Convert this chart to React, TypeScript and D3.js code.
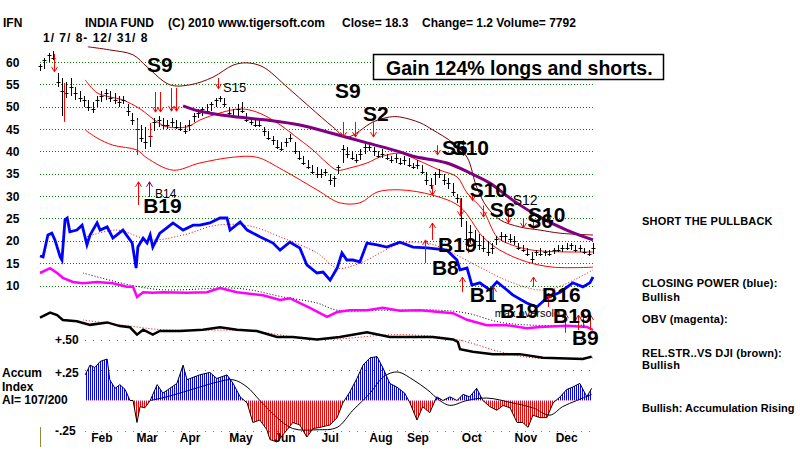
import * as d3 from "d3";
import { useEffect } from "react";

type Pt = [number, number];

// price bars, one every 2nd trading day, 1/7/08 .. 12/31/08
const highs = [
  59.5, 61, 62, 62.5, 57.5, 56.5, 55.5, 56.5, 54.5, 53.5,
  52.5, 51.5, 51, 52.5, 53.5, 54, 53.5, 53, 52.5, 52.5,
  50.5, 48.5, 47.5, 46, 45.5, 44.5, 47.5, 48, 47.5, 47,
  47.5, 47, 46.5, 46, 47, 48.5, 49.5, 50, 50.5, 51,
  52, 52.5, 52, 50, 49.5, 50.5, 51, 48.5, 47.5, 47,
  47, 45.5, 44.5, 43.5, 42.5, 42, 43, 44, 42, 40,
  39, 38, 37, 36.5, 36, 36, 35, 34.5, 37, 41.5,
  41, 40, 39.5, 40.5, 42, 42, 41, 40, 40.5, 39.5,
  39, 39.5, 38.5, 39, 38.5, 37.5, 38, 37, 35.5, 34,
  35.5, 36, 35, 34, 33, 30.5, 29.5, 24.5, 23.5, 22.5,
  21.5, 21, 20, 19.5, 21, 22, 21.5, 21.5, 21, 19.5,
  19, 18.5, 17.5, 18, 18.5, 18, 18, 18.5, 19, 19,
  19.5, 19.5, 19, 19, 18.5, 18, 19.5,
];
const lows = [
  58, 58.5, 60, 60.5, 54.5, 48, 52, 52.5, 51.5, 51,
  50, 49, 48.5, 50, 51, 51.5, 51, 50.5, 50, 50.5,
  48, 46, 43.5, 42, 40.5, 41, 44.5, 45.5, 45, 45,
  45.5, 45, 44.5, 44, 44.5, 46.5, 47.5, 48, 48.5, 49,
  50, 51, 50, 48, 47.5, 48, 48.5, 46.5, 46, 45.5,
  45.5, 43.5, 42.5, 41.5, 40.5, 40, 41, 42, 39.5, 38,
  37, 36, 35, 34, 34, 34.5, 32.5, 32, 35, 37.5,
  38.5, 38, 37.5, 38, 39.5, 40, 39, 38.5, 38.5, 38,
  37.5, 37.5, 37, 37, 36.5, 36, 36, 35, 32.5, 31.5,
  32.5, 34, 32.5, 31.5, 30, 28.5, 23, 18, 19.5, 18.5,
  18, 17.5, 16.5, 17, 19, 20, 19.5, 19.5, 19, 18,
  17.5, 16.5, 15, 16.5, 16.5, 16.5, 16.5, 17, 17.5, 17.5,
  18, 18, 17.5, 17.5, 17, 16.5, 17,
];
const closes = [
  59, 60.5, 61.5, 61, 55.5, 53.5, 53, 54.5, 53, 52,
  51.5, 50, 49.5, 51.5, 52.5, 53, 52, 51.5, 51, 51.5,
  49, 47, 45, 43, 42, 43.5, 46.5, 47, 46, 46,
  46.5, 45.5, 45, 44.5, 46, 48, 48.5, 49.5, 49, 50.5,
  51.5, 52, 50.5, 48.5, 48, 49.5, 49, 47, 46.5, 46,
  46, 44.5, 43, 42.5, 41, 40.5, 42, 43, 40, 38.5,
  37.5, 36.5, 35.5, 35, 35, 35.5, 33.5, 34, 36.5, 40.5,
  39.5, 38.5, 38, 39.5, 41, 41, 40, 39, 39.5, 38.5,
  38, 38.5, 37.5, 38, 37, 36.5, 37, 35.5, 33.5, 32.5,
  35, 35, 33.5, 33, 31, 29.5, 25, 20.5, 22, 20,
  19, 18.5, 17.5, 18.5, 20.5, 21, 21, 20.5, 20, 18.5,
  18, 17, 16, 17.5, 17, 17.5, 17, 18, 18, 18.5,
  18.5, 19, 18, 18.5, 17.5, 17, 18.5,
];

const priceTicks = [60, 55, 50, 45, 40, 35, 30, 25, 20, 15, 10];
const monthNames = ["Feb", "Mar", "Apr", "May", "Jun", "Jul", "Aug", "Sep", "Oct", "Nov", "Dec"];
const monthPos = [14.1, 24.4, 34.2, 45.8, 55.8, 66.1, 77.7, 86.1, 98.4, 110.7, 120.0];

// [bar index, price]
const upperBand: Pt[] = [
  [10.3, 56.0], [13.0, 53.1], [15.9, 52.2], [18.9, 51.5], [22.8, 49.5], [26.7, 46.6],
  [28.9, 45.5], [33.5, 45.5], [36.4, 47.0], [41.0, 48.6], [45.6, 49.5], [49.4, 48.8],
  [54.0, 46.4], [59.2, 42.6], [62.2, 40.3], [65.4, 37.4], [67.7, 35.8], [70.6, 36.3],
  [74.5, 37.4], [77.4, 38.7], [82.0, 39.6], [85.9, 38.1], [91.1, 35.8], [95.0, 34.3],
  [97.3, 30.7], [100.9, 26.9], [104.1, 20.9], [106.4, 19.5], [112.3, 17.9], [126, 17.5],
];
const lowerBand: Pt[] = [
  [10.3, 44.8], [13.0, 43.0], [16.6, 41.4], [22.1, 40.3], [24.4, 38.5], [30.3, 35.8],
  [36.4, 37.4], [44.0, 38.7], [49.4, 38.7], [55.4, 35.8], [63.1, 31.4], [68.3, 28.5],
  [72.9, 28.5], [76.8, 30.9], [82.0, 31.4], [89.5, 30.2], [95.7, 27.6], [100.9, 20.9],
  [104.8, 17.9], [110.9, 15.3], [116.9, 14.1], [126, 14.1],
];
const outerBand: Pt[] = [
  [10.9, 63.4], [15.9, 62.7], [21.2, 61.6], [24.4, 58.9], [29.6, 54.9], [34.2, 54.9],
  [39.4, 56.6], [44.0, 59.3], [47.2, 59.8], [50.8, 58.9], [56.3, 54.4], [61.5, 49.9],
  [66.7, 45.5], [69.9, 43.2], [75.9, 46.6], [79.7, 47.7], [82.0, 47.7], [86.6, 46.4],
  [89.5, 44.8], [94.1, 41.9], [97.3, 38.7], [99.5, 32.0], [101.8, 27.6], [104.8, 24.7],
  [109.3, 23.1], [113.9, 22.4], [118.5, 21.7], [126, 21.3],
];
const longMA: Pt[] = [
  [32.6, 50.2], [36.4, 49.0], [44.0, 47.8], [51.7, 47.0], [59.2, 45.9], [66.7, 44.0],
  [74.5, 41.9], [82.0, 39.9], [85.0, 38.9], [92.7, 37.4], [97.9, 35.2], [102.5, 32.9],
  [107.7, 29.1], [113.9, 25.3], [120.0, 22.4], [126, 20.2],
];
const closingPower: Pt[] = [
  [0, 16.6], [0.7, 16.4], [1.8, 21.3], [2.7, 21.7], [3.4, 20.2], [4.6, 16.4], [5.0, 15.7],
  [5.7, 24.7], [6.2, 25.1], [6.8, 22.0], [8.4, 22.4], [9.6, 23.5], [10.7, 19.1], [11.4, 21.3],
  [13.0, 24.0], [13.7, 22.4], [15.3, 23.1], [16.6, 20.6], [18.9, 22.4], [21.0, 19.5],
  [21.9, 13.9], [22.3, 18.6], [23.5, 20.6], [24.4, 19.5], [25.1, 21.3], [25.7, 18.6],
  [27.3, 21.7], [28.9, 22.9], [30.3, 24.0], [32.6, 22.4], [34.9, 23.5], [36.4, 23.5],
  [38.7, 24.0], [41.0, 25.1], [42.6, 25.1], [43.3, 22.4], [45.6, 24.2], [47.2, 22.4],
  [50.1, 20.9], [53.1, 19.5], [54.7, 17.9], [56.9, 19.7], [59.2, 18.4], [60.8, 14.6],
  [63.1, 12.8], [64.5, 13.0], [66.1, 11.2], [67.7, 13.9], [68.8, 17.3], [69.9, 15.7],
  [71.3, 15.7], [72.9, 15.3], [74.5, 19.5], [76.8, 19.1], [79.0, 18.6], [82.0, 19.7],
  [85.0, 18.6], [88.2, 18.4], [92.7, 17.9], [95.0, 15.7], [95.7, 13.5], [97.3, 13.9],
  [98.4, 10.1], [100.2, 10.6], [102.5, 9.0], [104.1, 10.8], [106.4, 9.0], [107.7, 7.9],
  [110.9, 6.1], [113.2, 5.2], [115.5, 7.2], [118.5, 8.5], [121.4, 10.6], [123.7, 9.7],
  [125.3, 10.6], [126, 11.9],
];
const closingPowerMA: Pt[] = [
  [10.7, 20.9], [17.5, 22.4], [25.1, 20.2], [32.6, 21.3], [40.3, 23.5], [47.8, 23.3],
  [55.4, 20.6], [63.1, 17.3], [67.7, 13.9], [72.9, 15.0], [82.0, 19.3], [88.2, 19.5],
  [92.7, 17.9], [100.2, 14.1], [107.7, 10.6], [115.5, 9.0], [126, 13.5],
];
const obv: Pt[] = [
  [0, 9.5], [2.3, 10.3], [3.9, 9.5], [5.2, 8.7], [7.5, 8.0], [9.8, 7.8], [13.0, 8.0],
  [16.6, 7.8], [19.8, 7.2], [21.2, 7.2], [22.1, 5.5], [23.5, 6.3], [25.7, 6.2], [28.0, 6.3],
  [33.5, 6.2], [38.0, 6.3], [41.0, 7.0], [44.9, 6.3], [50.8, 5.8], [54.7, 5.0], [56.9, 5.3],
  [61.5, 3.7], [65.4, 2.2], [67.7, 3.0], [70.6, 3.3], [74.5, 3.3], [78.1, 3.7], [82.0, 3.2],
  [86.6, 3.3], [94.1, 2.8], [97.3, 1.7], [101.8, 0.8], [106.4, 0.8], [110.9, 0.3],
  [113.9, 0.5], [120.0, 0.7], [124.6, 0.5], [126, 0],
];
const obvMA: Pt[] = [
  [9.8, 9.5], [20.5, 7.5], [28.0, 6.7], [43.3, 7.0], [47.8, 6.7], [55.4, 5.5], [63.1, 4.5],
  [67.7, 3.3], [78.1, 3.3], [91.1, 3.3], [97.3, 2.8], [104.8, 1.3], [112.3, 0.8], [124.6, 0.8],
];
const relStrength: Pt[] = [
  [0, 0.68], [2.3, 0.72], [3.9, 0.70], [5.2, 0.66], [8.4, 0.65], [11.4, 0.62], [15.3, 0.64],
  [18.2, 0.61], [20.5, 0.60], [22.1, 0.54], [23.5, 0.58], [25.7, 0.54], [27.3, 0.57],
  [31.9, 0.57], [37.1, 0.58], [41.0, 0.60], [44.9, 0.58], [49.4, 0.57], [54.0, 0.52],
  [57.6, 0.52], [63.1, 0.50], [68.3, 0.52], [74.5, 0.56], [79.7, 0.52], [85.9, 0.52],
  [89.5, 0.52], [94.1, 0.50], [95.2, 0.48], [95.7, 0.42], [98.6, 0.40], [103.2, 0.38],
  [109.3, 0.38], [114.6, 0.35], [123.7, 0.34], [125.7, 0.36],
];
const relStrengthMA: Pt[] = [
  [9.8, 0.66], [20.5, 0.61], [28.0, 0.58], [47.8, 0.57], [63.1, 0.50], [82.0, 0.54],
  [95.0, 0.50], [104.8, 0.40], [112.3, 0.35], [126, 0.35],
];
const accumIndex: Pt[] = [
  [10.3, 0.21], [11.4, 0.29], [12.5, 0.27], [13.7, 0.32], [15.3, 0.34], [15.9, 0.17],
  [17.1, 0.10], [18.2, 0.13], [19.4, 0.09], [20.5, 0.0], [21.2, 0.0], [22.1, -0.18],
  [22.8, -0.05], [23.9, -0.06], [25.1, 0.0], [26.7, 0.13], [28.0, 0.06], [29.6, 0.10],
  [31.2, 0.14], [32.6, 0.29], [33.5, 0.17], [34.9, 0.19], [36.4, 0.21], [38.7, 0.23],
  [40.3, 0.18], [42.6, 0.21], [44.0, 0.14], [45.6, 0.03], [47.2, -0.02], [48.5, -0.18],
  [50.1, -0.16], [51.7, -0.24], [52.4, -0.32], [54.0, -0.34], [56.3, -0.24], [57.6, -0.18],
  [59.2, -0.20], [60.8, -0.30], [62.2, -0.23], [63.8, -0.22], [66.1, -0.20], [67.7, -0.14],
  [69.0, -0.02], [70.6, 0.07], [72.2, 0.18], [73.6, 0.29], [75.2, 0.35], [76.8, 0.36],
  [78.1, 0.27], [79.7, 0.14], [81.3, 0.11], [83.1, 0.06], [84.3, -0.02], [85.9, -0.16],
  [87.2, -0.05], [88.8, -0.10], [90.4, 0.03], [91.8, 0.0], [93.4, 0.03], [95.0, 0.0],
  [96.4, 0.05], [97.9, 0.03], [99.5, 0.10], [100.9, 0.0], [102.5, -0.05], [104.1, -0.08],
  [105.5, -0.04], [107.1, -0.06], [108.7, -0.18], [110.0, -0.18], [111.2, -0.22],
  [112.3, -0.12], [113.9, -0.14], [115.5, -0.14], [116.9, -0.02], [118.5, 0.03],
  [120.0, 0.09], [121.4, 0.11], [123.0, 0.14], [124.6, 0.03], [125.7, 0.10],
];
const accumMA: Pt[] = [
  [25.1, 0.0], [28.9, 0.03], [36.4, 0.11], [40.3, 0.15], [44.0, 0.17], [47.2, 0.11],
  [50.1, 0.0], [54.0, -0.14], [57.6, -0.23], [63.1, -0.24], [67.7, -0.22], [71.3, -0.08],
  [75.2, 0.06], [78.1, 0.19], [80.4, 0.23], [82.0, 0.23], [85.0, 0.17], [88.2, 0.09],
  [91.1, 0.0], [93.4, -0.04], [97.3, 0.0], [101.8, 0.02], [107.7, -0.02], [112.3, -0.06],
  [116.2, -0.12], [119.1, -0.05], [122.3, 0.0], [125.7, 0.05],
];

// signal arrows: bar index, start price, end price (head at end)
type Sig = { i: number; from: number; to: number; kind: "arrow" | "bar"; color?: string };
const signals: Sig[] = [
  { i: 3.2, from: 61.8, to: 57.8, kind: "arrow" },
  { i: 26.2, from: 53.3, to: 48.8, kind: "arrow" },
  { i: 27.3, from: 53.3, to: 48.8, kind: "arrow" },
  { i: 29.8, from: 54.2, to: 49.0, kind: "arrow" },
  { i: 31.0, from: 54.2, to: 49.0, kind: "arrow" },
  { i: 40.5, from: 56.4, to: 54.0, kind: "arrow" },
  { i: 69.0, from: 46.6, to: 43.2, kind: "arrow" },
  { i: 71.8, from: 46.6, to: 43.2, kind: "arrow" },
  { i: 75.9, from: 46.6, to: 43.2, kind: "arrow" },
  { i: 90.4, from: 41.4, to: 39.2, kind: "arrow" },
  { i: 96.4, from: 42.5, to: 39.0, kind: "arrow" },
  { i: 89.3, from: 32.5, to: 30.2, kind: "arrow" },
  { i: 95.7, from: 29.5, to: 25.5, kind: "arrow" },
  { i: 98.4, from: 30.7, to: 29.0, kind: "arrow" },
  { i: 101.0, from: 27.9, to: 25.3, kind: "arrow" },
  { i: 106.6, from: 27.2, to: 24.0, kind: "arrow" },
  { i: 110.0, from: 24.9, to: 22.9, kind: "arrow" },
  { i: 112.3, from: 24.5, to: 22.6, kind: "arrow" },
  { i: 22.3, from: 28.0, to: 33.2, kind: "arrow" },
  { i: 24.8, from: 29.8, to: 33.2, kind: "arrow", color: "#800080" },
  { i: 89.3, from: 20.2, to: 24.0, kind: "arrow" },
  { i: 87.7, from: 15.0, to: 20.2, kind: "arrow" },
  { i: 96.1, from: 8.5, to: 11.9, kind: "arrow" },
  { i: 97.5, from: 17.3, to: 20.2, kind: "arrow" },
  { i: 103.2, from: 6.3, to: 9.7, kind: "arrow" },
  { i: 112.3, from: 9.7, to: 11.9, kind: "arrow" },
  { i: 115.7, from: 5.2, to: 8.3, kind: "arrow" },
  { i: 119.6, from: -0.6, to: 3.8, kind: "arrow" },
  { i: 122.6, from: 0, to: 3.4, kind: "arrow" },
  { i: 123.7, from: 0.5, to: 3.8, kind: "arrow" },
  { i: 125.3, from: 0, to: 3.4, kind: "arrow" },
  { i: 5.5, from: 55.3, to: 46.6, kind: "bar" },
  { i: 22.1, from: 47.0, to: 39.2, kind: "bar" },
  { i: 25.0, from: 46.4, to: 42.6, kind: "bar" },
];

// signal labels: text, bar index, baseline price, size
const labels: [string, number, number, number][] = [
  ["S9", 24.4, 57.8, 21],
  ["S15", 41.7, 53.3, 13],
  ["S9", 67.2, 52.0, 21],
  ["S2", 73.6, 46.8, 21],
  ["S6", 91.6, 39.2, 21],
  ["S10", 93.8, 39.2, 21],
  ["S10", 97.9, 29.8, 21],
  ["S6", 102.5, 25.3, 21],
  ["S12", 107.7, 28.0, 14],
  ["S10", 111.2, 24.2, 21],
  ["S6", 111.0, 22.9, 21],
  ["B14", 26.2, 29.6, 12],
  ["B19", 23.5, 26.2, 21],
  ["B19", 90.7, 17.5, 21],
  ["B8", 89.3, 12.3, 21],
  ["B1", 97.9, 6.3, 21],
  ["max.oversold", 103.6, 2.9, 11],
  ["B19", 104.8, 2.7, 21],
  ["B16", 114.4, 6.3, 21],
  ["B19", 116.9, 1.6, 21],
  ["B9", 121.2, -3.3, 21],
];

const FONT = "'Liberation Sans', Arial, sans-serif";

export default function App() {
  useEffect(() => {
    document.body.style.margin = "0";
  }, []);

  const x = d3.scaleLinear().domain([0, 126]).range([40, 593]);
  const y = d3.scaleLinear().domain([10, 60]).range([285.5, 62]);
  const yObv = d3.scaleLinear().domain([0, 10]).range([330, 270]);
  const yLow = d3.scaleLinear().domain([-0.25, 0.5]).range([431, 339.5]);

  const jagged = (s: d3.ScaleLinear<number, number>) =>
    d3.line<Pt>().x((d) => x(d[0])).y((d) => s(d[1]));
  const smooth = (s: d3.ScaleLinear<number, number>) =>
    d3.line<Pt>().x((d) => x(d[0])).y((d) => s(d[1])).curve(d3.curveCatmullRom);

  const zero = yLow(0);
  const aiArea = d3.area<Pt>().x((d) => x(d[0])).y0(zero).y1((d) => yLow(d[1]));

  const px = (v: number) => Math.round(v) + 0.5;

  return (
    <svg width={800} height={449} style={{ display: "block", background: "#fff" }} fontFamily={FONT}>
      <defs>
        <pattern id="blueStripes" width="2" height="4" patternUnits="userSpaceOnUse">
          <rect x="0" y="0" width="1" height="4" fill="#0000ff" />
        </pattern>
        <pattern id="redStripes" width="2" height="4" patternUnits="userSpaceOnUse">
          <rect x="0" y="0" width="1" height="4" fill="#ff0000" />
        </pattern>
        <clipPath id="aboveZero">
          <rect x="0" y="300" width="800" height={zero - 300} />
        </clipPath>
        <clipPath id="belowZero">
          <rect x="0" y={zero} width="800" height={449 - zero} />
        </clipPath>
      </defs>

      {/* header */}
      <g fontWeight="bold" fontSize="12" fill="#000">
        <text x={3} y={27}>IFN</text>
        <text x={85} y={27}>INDIA FUND</text>
        <text x={168} y={27}>(C) 2010 www.tigersoft.com</text>
        <text x={342} y={27}>Close= 18.3</text>
        <text x={422} y={27}>Change= 1.2 Volume= 7792</text>
        <text x={43} y={42} letterSpacing="1">1/ 7/ 8- 12/ 31/ 8</text>
      </g>

      {/* price grid */}
      {priceTicks.map((t) => (
        <g key={t}>
          <line x1={40} x2={593} y1={px(y(t))} y2={px(y(t))} stroke="#008000" strokeDasharray="1 2" />
          <text x={6} y={y(t) + 4.5} fontSize="12" fontWeight="bold">{t}</text>
        </g>
      ))}

      {/* gain box */}
      <rect x={373.5} y={54.5} width={290} height={25} fill="#fff" stroke="#000" strokeWidth={1.5} />
      <text x={386} y={75} fontSize="19.5" fontWeight="bold">Gain 124% longs and shorts.</text>

      {/* bands */}
      <path d={smooth(y)(outerBand)!} fill="none" stroke="#800000" strokeWidth={1} />
      <path d={smooth(y)(upperBand)!} fill="none" stroke="#ff0000" strokeWidth={1} />
      <path d={smooth(y)(lowerBand)!} fill="none" stroke="#ff0000" strokeWidth={1} />

      {/* price bars */}
      <g stroke="#000" strokeWidth={1}>
        {closes.map((c, i) => {
          const bx = px(x(i));
          return (
            <g key={i}>
              <line x1={bx} x2={bx} y1={Math.round(y(highs[i]))} y2={Math.round(y(lows[i]))} />
              <line x1={bx - 2} x2={bx + 2} y1={px(y(c))} y2={px(y(c))} />
            </g>
          );
        })}
      </g>

      <path d={smooth(y)(longMA)!} fill="none" stroke="#800080" strokeWidth={3} />

      {/* closing power */}
      <path d={smooth(y)(closingPowerMA)!} fill="none" stroke="#ff0000" strokeWidth={1} strokeDasharray="1 2" />
      <path d={jagged(y)(closingPower)!} fill="none" stroke="#0000ff" strokeWidth={2.8} />

      {/* OBV */}
      <path d={smooth(yObv)(obvMA)!} fill="none" stroke="#000" strokeWidth={1} strokeDasharray="1 2" />
      <path d={jagged(yObv)(obv)!} fill="none" stroke="#ff00ff" strokeWidth={2.5} />

      {/* relative strength */}
      <line x1={85} x2={593} y1={px(yLow(0.5))} y2={px(yLow(0.5))} stroke="#777" strokeDasharray="1 7" />
      <path d={smooth(yLow)(relStrengthMA)!} fill="none" stroke="#ff0000" strokeWidth={1} strokeDasharray="1 2" />
      <path d={jagged(yLow)(relStrength)!} fill="none" stroke="#000" strokeWidth={2.5} />

      {/* accumulation index */}
      <line x1={85} x2={593} y1={px(yLow(0.25))} y2={px(yLow(0.25))} stroke="#777" strokeDasharray="1 7" />
      <line x1={85} x2={593} y1={px(yLow(-0.25))} y2={px(yLow(-0.25))} stroke="#777" strokeDasharray="1 7" />
      <path d={aiArea(accumIndex)!} fill="url(#blueStripes)" clipPath="url(#aboveZero)" />
      <path d={aiArea(accumIndex)!} fill="url(#redStripes)" clipPath="url(#belowZero)" />
      <path d={jagged(yLow)(accumIndex)!} fill="none" stroke="#000" strokeWidth={1} />
      <path d={smooth(yLow)(accumMA)!} fill="none" stroke="#000" strokeWidth={1} />

      <g fontSize="12" fontWeight="bold">
        <text x={55} y={344}>+.50</text>
        <text x={55} y={377}>+.25</text>
        <text x={55} y={435}>-.25</text>
        <text x={2} y={377}>Accum</text>
        <text x={2} y={391}>Index</text>
        <text x={2} y={404}>AI= 107/200</text>
      </g>
      <line x1={40.5} x2={40.5} y1={427} y2={447} stroke="#8b8b3a" />

      {/* months */}
      <g fontSize="12" fontWeight="bold" textAnchor="middle">
        {monthNames.map((m, k) => (
          <text key={m} x={x(monthPos[k])} y={442}>{m}</text>
        ))}
      </g>

      {/* signals */}
      <g fill="none" strokeWidth={1}>
        {signals.map((s, k) => {
          const sx = px(x(s.i));
          const y0 = y(s.from);
          const y1 = y(s.to);
          const dir = y1 > y0 ? -1 : 1;
          const d =
            s.kind === "bar"
              ? `M${sx},${y0}L${sx},${y1}`
              : `M${sx},${y0}L${sx},${y1}M${sx - 3},${y1 + dir * 5}L${sx},${y1}L${sx + 3},${y1 + dir * 5}`;
          return <path key={k} d={d} stroke={s.color ?? "#ff0000"} />;
        })}
      </g>

      {/* signal labels */}
      <g fill="#000">
        {labels.map(([t, i, p, size], k) => (
          <text
            key={k}
            x={x(i)}
            y={y(p)}
            fontSize={size}
            fontWeight={size > 15 ? "bold" : "normal"}
          >
            {t}
          </text>
        ))}
      </g>

      {/* right commentary */}
      <g fontSize="11" fontWeight="bold" letterSpacing="0.2">
        <text x={642} y={225}>SHORT THE PULLBACK</text>
        <text x={642} y={287}>CLOSING POWER (blue):</text>
        <text x={642} y={301}>Bullish</text>
        <text x={642} y={323}>OBV (magenta):</text>
        <text x={642} y={357}>REL.STR..VS DJI (brown):</text>
        <text x={642} y={369}>Bullish</text>
        <text x={642} y={412} letterSpacing="0">Bullish: Accumulation Rising</text>
      </g>
    </svg>
  );
}
